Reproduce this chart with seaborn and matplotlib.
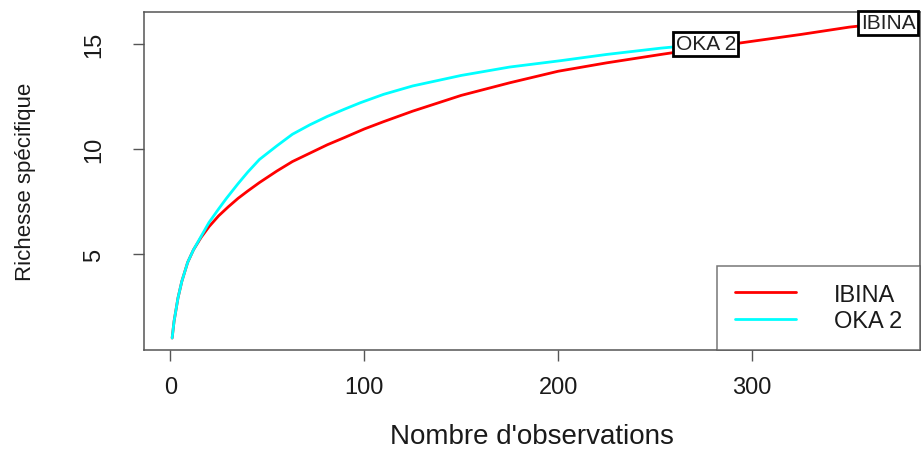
import matplotlib
matplotlib.use("Agg")
import matplotlib.pyplot as plt
import seaborn as sns
import pandas as pd

# === Data (rarefaction curves) ===
ibina_n = [1, 2, 4, 6, 9, 12, 16, 20, 25, 30, 35, 40, 46, 55, 63, 72, 81, 90,
           100, 110, 125, 150, 175, 200, 225, 253, 275, 298, 325, 350, 370]
ibina_s = [1.0, 1.8, 2.9, 3.7, 4.6, 5.2, 5.8, 6.3, 6.82, 7.25, 7.65, 8.0,
           8.4, 8.95, 9.4, 9.8, 10.2, 10.55, 10.95, 11.3, 11.8, 12.55, 13.15,
           13.7, 14.1, 14.5, 14.8, 15.1, 15.45, 15.8, 16.0]

oka_n = [1, 2, 4, 6, 9, 12, 16, 20, 25, 29, 35, 40, 46, 55, 63, 72, 81, 90,
         98, 110, 125, 150, 175, 201, 225, 253, 276]
oka_s = [1.0, 1.8, 2.9, 3.7, 4.6, 5.2, 5.85, 6.5, 7.15, 7.65, 8.35, 8.9,
         9.5, 10.15, 10.7, 11.15, 11.55, 11.9, 12.2, 12.6, 13.0, 13.5, 13.9,
         14.2, 14.5, 14.8, 15.0]

sites = ["IBINA", "OKA 2"]
colors = {"IBINA": "#FF0000", "OKA 2": "#00FFFF"}

df = pd.concat([
    pd.DataFrame({"n": ibina_n, "s": ibina_s, "site": "IBINA"}),
    pd.DataFrame({"n": oka_n, "s": oka_s, "site": "OKA 2"}),
], ignore_index=True)

sns.set_theme(style="white")
plt.rcParams["font.family"] = ["Liberation Sans", "DejaVu Sans"]

fig = plt.figure(figsize=(9.22, 4.56), dpi=100)
ax = fig.add_axes([144 / 922, (456 - 351) / 456, 776 / 922, 338 / 456])

sns.lineplot(data=df, x="n", y="s", hue="site", palette=colors,
             hue_order=sites, sort=False, estimator=None, linewidth=2.0,
             ax=ax, legend=False)

ax.set_xlim(-13.5, 386.5)
ax.set_ylim(0.43, 16.52)
ax.set_xticks([0, 100, 200, 300])
ax.set_yticks([5, 10, 15])
ax.tick_params(axis="both", which="major", direction="out", length=8,
               width=1, color="#555555", labelsize=17, labelcolor="#1a1a1a",
               bottom=True, left=True)
ax.tick_params(axis="x", pad=11)
ax.tick_params(axis="y", pad=20)
for lab in ax.get_yticklabels():
    lab.set_rotation(90)
    lab.set_va("center")

for sp in ax.spines.values():
    sp.set_color("#555555")
    sp.set_linewidth(1.1)

ax.set_xlabel("Nombre d'observations", fontsize=20, labelpad=18,
              color="#1a1a1a")
ax.set_ylabel("Richesse spécifique", fontsize=16, labelpad=34,
              color="#1a1a1a")

# end-of-curve labels
ends = {"IBINA": (ibina_n[-1], ibina_s[-1]), "OKA 2": (oka_n[-1], oka_s[-1])}
for name in sites:
    x, y = ends[name]
    ax.text(x, y, name, ha="center", va="center", fontsize=15,
            color="#222222", clip_on=False, zorder=5,
            bbox=dict(boxstyle="square,pad=0.12", fc="white", ec="black",
                      lw=2))

# legend
handles = [plt.Line2D([], [], color=colors[s], lw=2.0) for s in sites]
leg = ax.legend(handles, sites, loc="lower right", fontsize=17,
                frameon=True, fancybox=False, borderaxespad=0,
                handlelength=2.6, handletextpad=1.6, borderpad=0.75,
                labelspacing=0.2, labelcolor="#1a1a1a")
leg.get_frame().set_edgecolor("#555555")
leg.get_frame().set_linewidth(1.1)

fig.savefig("out.png", dpi=100)
